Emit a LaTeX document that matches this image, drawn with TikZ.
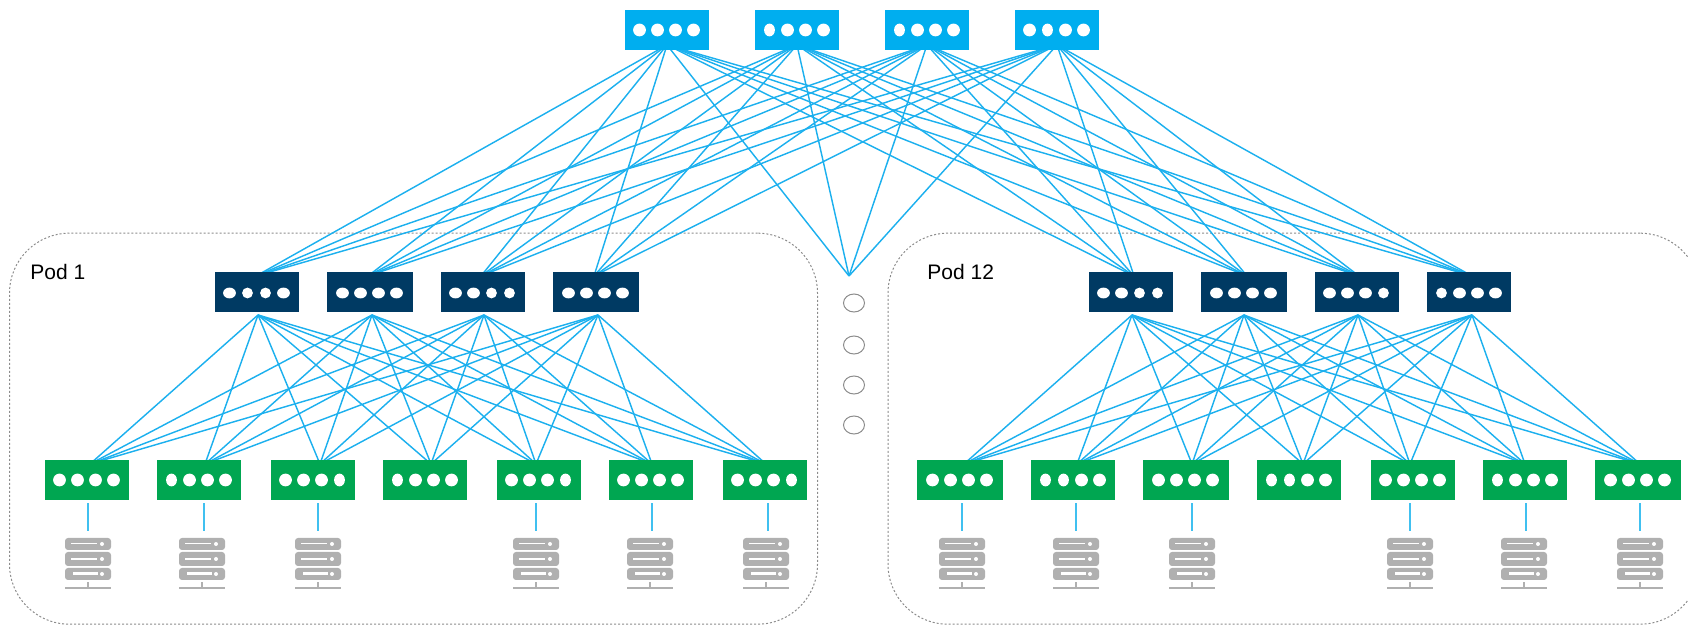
\documentclass[tikz,border=0pt]{standalone}
\usepackage{fontspec}
\setmainfont{Liberation Sans}
\usepackage{tikz}
\usepackage{xcolor}
\usetikzlibrary{shapes, positioning, backgrounds}

\definecolor{spinecol}{HTML}{00AEEF}
\definecolor{aggcol}{HTML}{003A63}
\definecolor{torcol}{HTML}{00A651}
\definecolor{linkcol}{HTML}{1CB0EE}
\definecolor{stubcol}{HTML}{40C0F0}
\definecolor{rackcol}{HTML}{B0B0B0}

\tikzset{
    spinebox/.style={rectangle, fill=spinecol, inner sep=0pt, minimum height=20pt},
    aggbox/.style={rectangle, fill=aggcol, inner sep=0pt, minimum height=20pt},
    torbox/.style={rectangle, fill=torcol, inner sep=0pt, minimum height=20pt},
    link/.style={draw=linkcol, line width=0.72pt},
    stub/.style={draw=stubcol, line width=1.1pt, shorten <=1.5pt, shorten >=3.5pt},
    pod/.style={rectangle, draw=gray!90, line width=0.5pt, dash pattern=on 1pt off 1pt, rounded corners=30pt, inner sep=0pt},
    podlabel/.style={anchor=base west, inner sep=0pt, font=\fontsize{10.5pt}{12pt}\selectfont},
    moredot/.style={ellipse, draw=gray!90, line width=0.5pt, inner sep=0pt, minimum width=10.5pt, minimum height=9pt},
    rack/.style={rectangle, inner sep=0pt, minimum width=23pt, minimum height=25pt},
    pics/rackicon/.style={code={
        \fill[rackcol, rounded corners=1.5pt] (-23,-25) rectangle (23,-13);
        \fill[rackcol, rounded corners=1.5pt] (-23,-11) rectangle (23,3);
        \fill[rackcol, rounded corners=1.5pt] (-23,5) rectangle (23,17);
        \fill[white] (-17,-20) rectangle (9,-18.5);
        \fill[white] (-17,-4.5) rectangle (9,-3);
        \fill[white] (-15,9.5) rectangle (10,12.5);
        \fill[white] (14,-19) circle [radius=2];
        \fill[white] (14,-4) circle [radius=2];
        \fill[white] (14,11) circle [radius=2];
        \fill[rackcol] (-0.7,19) rectangle (0.7,24);
        \fill[rackcol] (-23,24) rectangle (23,26);
    }}
}

\newcommand{\portrow}[7]{
    \foreach \pn/\rad in {0/#3,1/#4,2/#5,3/#6}
        \fill[white] (#1-27.5+18*\pn,#2) ellipse [x radius=\rad+0.4, y radius=#7+0.4];
}

\begin{document}
\begin{tikzpicture}[x=0.5pt, y=-0.5pt]
    \clip (0,0) rectangle (1688,625);

    % spine layer
    \foreach \n/\x/\a/\b/\c/\d in {1/625/6/6/6/6, 2/755/5/6/6/6, 3/885/5/6/6/6, 4/1015/6/5/6/6} {
        \node[spinebox, minimum width=42pt] (s\n) at (\x+42,30) {};
        \coordinate (s\n out) at (\x+42,45);
        \portrow{\x+42}{30}{\a}{\b}{\c}{\d}{6}
    }

    % aggregation layer of both pods
    \foreach \n/\x/\w/\ui/\uo/\a/\b/\c/\d in {
        1/215/84/256/258/6/5/5/6, 2/327/86/368/372/6/6/6/6,
        3/441/84/481/484/6/6/5/5, 4/553/86/594/598/6/6/6/6,
        5/1089/84/1134/1132/6/6/5/5, 6/1201/86/1247/1244/6/6/6/6,
        7/1315/84/1359/1358/6/6/6/5, 8/1427/84/1472/1472/5/6/6/6} {
        \node[aggbox, minimum width=\w*0.5pt] (u\n) at (\x+\w/2,292) {};
        \coordinate (u\n in) at (\ui,276);
        \coordinate (u\n out) at (\uo,315);
        \portrow{\x+\w/2}{293}{\a}{\b}{\c}{\d}{5}
    }

    % top of rack layer of both pods
    \foreach \n/\x/\w/\ti/\a/\b/\c/\d in {
        1/45/84/90/6/6/6/6, 2/157/84/205/5/6/6/6, 3/271/84/320/6/6/6/5,
        4/383/84/431/5/6/6/6, 5/497/84/536/6/6/6/5, 6/609/84/652/6/6/6/6,
        7/723/84/766/6/6/6/5,
        8/917/86/964/6/6/6/6, 9/1031/84/1077/5/5/6/6, 10/1143/86/1192/6/6/6/6,
        11/1257/84/1303/5/5/6/6, 12/1371/84/1410/6/6/6/6, 13/1483/84/1525/5/6/6/6,
        14/1595/86/1640/6/6/6/6} {
        \node[torbox, minimum width=\w*0.5pt] (t\n) at (\x+\w/2,480) {};
        \coordinate (t\n in) at (\ti,464);
        \portrow{\x+\w/2}{480}{\a}{\b}{\c}{\d}{6}
    }

    % racks
    \foreach \n/\t/\sx/\rx in {
        1/1/88/88, 2/2/204/202, 3/3/318/318, 4/5/536/536, 5/6/652/650, 6/7/768/766,
        7/8/962/962, 8/9/1076/1076, 9/10/1192/1192, 10/12/1410/1410, 11/13/1526/1524, 12/14/1640/1640} {
        \node[rack] (r\n) at (\sx,563) {};
        \pic at (\rx,563) {rackicon};
        \draw[stub] (t\t.south -| r\n.north) -- (r\n.north);
    }

    % the pods not shown
    \coordinate (mid) at (849,276);
    \node[moredot] (m1) at (854,303) {};
    \node[moredot] (m2) at (854,345) {};
    \node[moredot] (m3) at (854,385) {};
    \node[moredot] (m4) at (854,425) {};

    \begin{scope}[on background layer]
        \node[pod, minimum width=404pt, minimum height=195.5pt] (pod1) at (413.5,428.7) {};
        \node[pod, minimum width=406pt, minimum height=195.5pt] (pod12) at (1294,428.7) {};

        \foreach \i in {1,...,4} {
            \foreach \j in {1,...,8}
                \draw[link] (s\i out) -- (u\j in);
            \draw[link] (s\i out) -- (mid);
        }
        \foreach \j in {1,...,4}
            \foreach \k in {1,...,7}
                \draw[link] (u\j out) -- (t\k in);
        \foreach \j in {5,...,8}
            \foreach \k in {8,...,14}
                \draw[link] (u\j out) -- (t\k in);
    \end{scope}

    \node[podlabel] (pod1label) at (30,280) {Pod 1};
    \node[podlabel] (pod12label) at (927,280) {Pod 12};
\end{tikzpicture}
\end{document}
